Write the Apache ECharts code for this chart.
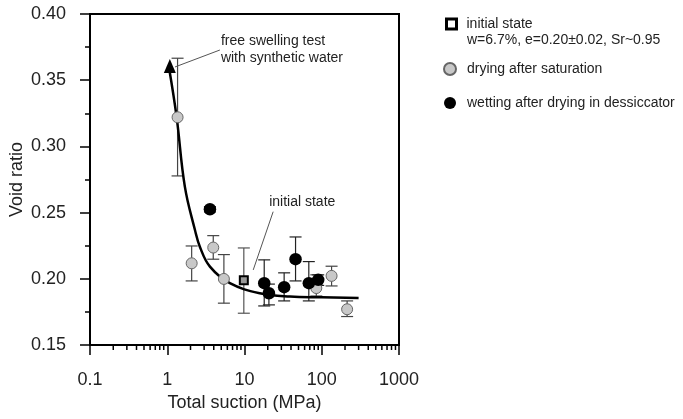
<!DOCTYPE html>
<html>
<head>
<meta charset="utf-8">
<script src="https://cdn.jsdelivr.net/npm/echarts@6/dist/echarts.min.js"></script>
<style>
html,body{margin:0;padding:0;background:#fff;}
#chart{width:683px;height:419px;}
</style>
</head>
<body>
<div id="chart"></div>
<script>
// ---- data ----
const yTickValues = [0.15, 0.20, 0.25, 0.30, 0.35, 0.40];
const xTickLabels = ['0.1', '1', '10', '100', '1000'];
const xMinorTicks = [0.2,0.3,0.4,0.5,0.6,0.7,0.8,0.9, 2,3,4,5,6,7,8,9, 20,30,40,50,60,70,80,90, 200,300,400,500,600,700,800,900];

// initial state
const initialPts = [[9.8, 0.1989]];
const initialErr = [[9.8, 0.174, 0.2233]];

// drying after saturation
const dryingPts = [[1.36, 0.322], [2.07, 0.2117], [3.94, 0.2236], [5.41, 0.1999], [85, 0.193], [134, 0.2022], [213, 0.177]];
const dryingErr = [[1.36, 0.2777, 0.3666], [2.07, 0.1984, 0.2248], [3.94, 0.2148, 0.2326], [5.41, 0.1816, 0.2183], [85, 0.187, 0.203], [134, 0.1946, 0.2095], [213, 0.1715, 0.1833]];

// wetting after drying in dessiccator
const wettingPts = [[3.57, 0.2525], [18, 0.1967], [20.7, 0.1891], [32.6, 0.1937], [45.8, 0.2148], [68, 0.1967], [90, 0.1992]];
const wettingErr = [[3.57, 0.2505, 0.2545], [18, 0.1795, 0.2143], [20.7, 0.1803, 0.196], [32.6, 0.1833, 0.2045], [45.8, 0.1984, 0.2316], [68, 0.1833, 0.213], [90, 0.195, 0.203]];

// free swelling test
const swellingPts = [[1.08, 0.3607]];

// fitted curve
const curvePts = [[1.05, 0.360], [1.32, 0.3225], [1.69, 0.2696], [2.28, 0.237], [2.65, 0.224], [3.57, 0.2092], [6.47, 0.1967], [15.8, 0.1891], [38.7, 0.1866], [100, 0.186], [300, 0.1855]];

// annotation anchors in data space
const swellLeader = [[1.26, 0.360], [4.8, 0.3728]];
const initLeader = [[23.5, 0.2507], [12.97, 0.2067]];

const FONT = "'Liberation Sans', Arial, sans-serif";
const chart = echarts.init(document.getElementById('chart'));

function errorBarSeries(name, data, color) {
  return {
    name: name + ' err',
    type: 'custom',
    z: 2,
    silent: true,
    renderItem: function (params, api) {
      const x = api.value(0);
      const lo = api.coord([x, api.value(1)]);
      const hi = api.coord([x, api.value(2)]);
      const w = 6;
      const st = { stroke: color, lineWidth: 1.2 };
      return {
        type: 'group',
        children: [
          { type: 'line', shape: { x1: lo[0], y1: lo[1], x2: hi[0], y2: hi[1] }, style: st },
          { type: 'line', shape: { x1: lo[0] - w, y1: lo[1], x2: lo[0] + w, y2: lo[1] }, style: st },
          { type: 'line', shape: { x1: hi[0] - w, y1: hi[1], x2: hi[0] + w, y2: hi[1] }, style: st }
        ]
      };
    },
    encode: { x: 0, y: [1, 2] },
    data: data
  };
}

const option = {
  animation: false,
  backgroundColor: '#fff',
  textStyle: { fontFamily: FONT },
  grid: { left: 90, right: 284, top: 14, bottom: 74, show: true, borderColor: '#000', borderWidth: 2, backgroundColor: 'transparent' },
  xAxis: {
    type: 'log', logBase: 10, min: 0.1, max: 1000,
    name: 'Total suction (MPa)', nameLocation: 'middle', nameGap: 48,
    nameTextStyle: { fontSize: 18, color: '#222', fontFamily: FONT },
    axisLine: { lineStyle: { color: '#000', width: 2 } },
    axisTick: { show: true, length: 10, lineStyle: { color: '#000', width: 1.5 } },
    splitLine: { show: false },
    axisLabel: { fontSize: 18, color: '#222', margin: 26, fontFamily: FONT,
      formatter: function (v) { const i = Math.round(Math.log10(v)) + 1; return xTickLabels[i] !== undefined ? xTickLabels[i] : ''; } }
  },
  yAxis: {
    type: 'value', min: 0.15, max: 0.40, interval: 0.05,
    name: 'Void ratio', nameLocation: 'middle', nameGap: 64,
    nameTextStyle: { fontSize: 18, color: '#222', fontFamily: FONT },
    axisLine: { show: true, lineStyle: { color: '#000', width: 2 } },
    axisTick: { show: true, length: 10, lineStyle: { color: '#000', width: 1.5 } },
    minorTick: { show: true, splitNumber: 2, length: 5, lineStyle: { color: '#000', width: 1.5 } },
    splitLine: { show: false },
    axisLabel: { fontSize: 18, color: '#222', margin: 24, fontFamily: FONT,
      formatter: function (v) { const t = yTickValues.find(function (q) { return Math.abs(q - v) < 1e-9; }); return t !== undefined ? t.toFixed(2) : ''; } }
  },
  legend: [
    {
      left: 440, top: 12, orient: 'vertical', itemWidth: 10, itemHeight: 10, itemGap: 10,
      textStyle: { fontSize: 14, color: '#222', fontFamily: FONT, padding: [0, 0, 0, 5] },
      data: [{ name: 'initial state', icon: 'rect', itemStyle: { color: '#fff', borderColor: '#000', borderWidth: 3 } }]
    },
    {
      left: 438, top: 57, orient: 'vertical', itemWidth: 12, itemHeight: 12, itemGap: 20,
      textStyle: { fontSize: 14, color: '#222', fontFamily: FONT, padding: [0, 0, 0, 6] },
      data: [{ name: 'drying after saturation', icon: 'circle' }, { name: 'wetting after drying in dessiccator', icon: 'circle' }]
    }
  ],
  series: [
    {
      name: 'minor ticks', type: 'custom', silent: true, clip: false, z: 1,
      renderItem: function (params, api) {
        const p = api.coord([api.value(0), 0.15]);
        return { type: 'line', shape: { x1: p[0], y1: p[1], x2: p[0], y2: p[1] + 5 }, style: { stroke: '#000', lineWidth: 1.5 } };
      },
      encode: { x: 0 },
      data: xMinorTicks.map(function (v) { return [v]; })
    },
    errorBarSeries('drying', dryingErr, '#444'),
    errorBarSeries('wetting', wettingErr, '#222'),
    errorBarSeries('initial', initialErr, '#555'),
    {
      name: 'curve', type: 'line', data: curvePts, smooth: 0.4, showSymbol: false, z: 3,
      lineStyle: { color: '#000', width: 2.5 }, silent: true
    },
    {
      name: 'drying after saturation', type: 'scatter', data: dryingPts, symbol: 'circle', symbolSize: 11, z: 4,
      itemStyle: { color: '#c8c8c8', borderColor: '#666', borderWidth: 1, opacity: 1 }
    },
    {
      name: 'wetting after drying in dessiccator', type: 'scatter', data: wettingPts, symbol: 'circle', symbolSize: 12.5, z: 5,
      itemStyle: { color: '#000', opacity: 1 }
    },
    {
      name: 'initial state', type: 'scatter', data: initialPts, symbol: 'rect', symbolSize: 8, z: 6,
      itemStyle: { color: '#999', borderColor: '#000', borderWidth: 2, opacity: 1 }
    },
    {
      name: 'free swelling', type: 'scatter', data: swellingPts, symbol: 'triangle', symbolSize: [12, 14], z: 6,
      itemStyle: { color: '#000', opacity: 1 }
    }
  ]
};
chart.setOption(option);

// annotations via data->pixel conversion
const a0 = chart.convertToPixel({ gridIndex: 0 }, swellLeader[0]);
const a1 = chart.convertToPixel({ gridIndex: 0 }, swellLeader[1]);
const b0 = chart.convertToPixel({ gridIndex: 0 }, initLeader[0]);
const b1 = chart.convertToPixel({ gridIndex: 0 }, initLeader[1]);
chart.setOption({
  graphic: [
    { type: 'line', shape: { x1: a0[0], y1: a0[1], x2: a1[0], y2: a1[1] }, style: { stroke: '#555', lineWidth: 1 }, z: 10 },
    { type: 'text', x: a1[0] + 1, y: a1[1], style: { text: 'free swelling test\nwith synthetic water', font: '14px ' + FONT, fill: '#222', lineHeight: 17, verticalAlign: 'middle' }, z: 10 },
    { type: 'line', shape: { x1: b0[0], y1: b0[1], x2: b1[0], y2: b1[1] }, style: { stroke: '#555', lineWidth: 1 }, z: 10 },
    { type: 'text', x: b0[0] - 4, y: b0[1] - 10, style: { text: 'initial state', font: '14px ' + FONT, fill: '#222', verticalAlign: 'middle' }, z: 10 },
    { type: 'text', x: 467, y: 40, style: { text: 'w=6.7%, e=0.20±0.02, Sr~0.95', font: '14px ' + FONT, fill: '#222', verticalAlign: 'middle' }, z: 10 }
  ]
});
</script>
</body>
</html>
